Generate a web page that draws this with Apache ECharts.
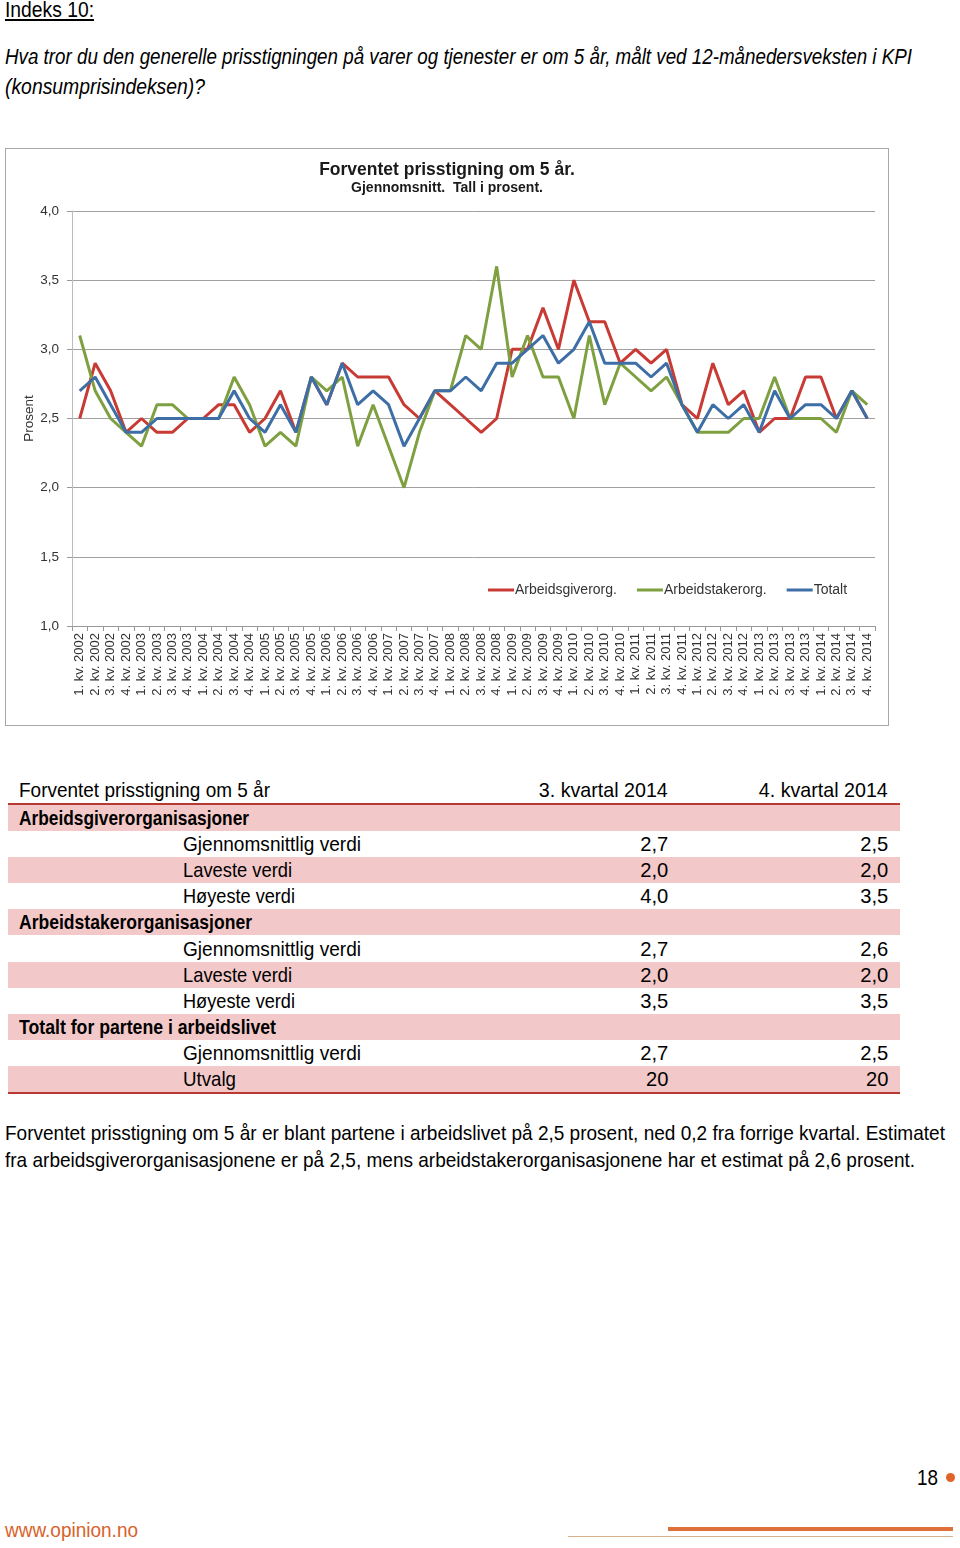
<!DOCTYPE html>
<html><head><meta charset="utf-8">
<script src="https://cdn.jsdelivr.net/npm/echarts@6/dist/echarts.min.js"></script>
<style>
html,body{margin:0;padding:0;background:#fff;}
body{width:960px;height:1548px;position:relative;overflow:hidden;font-family:"Liberation Sans Narrow","Liberation Sans",Arial,sans-serif;color:#000;}
.t{position:absolute;white-space:nowrap;line-height:1;}
#chartBox{position:absolute;left:5px;top:148px;width:882px;height:576px;border:1px solid #a8a8a8;background:#fff;}
#chart{position:absolute;left:0;top:0;width:882px;height:576px;}
.band{position:absolute;left:8px;width:892px;background:#f3c8c8;}
.rline{position:absolute;left:8px;width:892px;height:2px;background:#b83a32;}
</style></head>
<body>
<div class="t" data-w="89" style="left:5px;top:-1px;font-size:22px;text-decoration:underline;">Indeks 10:</div>
<div class="t" data-w="907" style="left:5px;top:46px;font-size:22px;font-style:italic;">Hva tror du den generelle prisstigningen på varer og tjenester er om 5 år, målt ved 12-månedersveksten i KPI</div>
<div class="t" data-w="200" style="left:5px;top:76px;font-size:22px;font-style:italic;">(konsumprisindeksen)?</div>

<div id="chartBox"><div id="chart"></div></div>

<div id="table"></div>

<div class="t" data-w="940" style="left:5px;top:1122px;font-size:21px;">Forventet prisstigning om 5 år er blant partene i arbeidslivet på 2,5 prosent, ned 0,2 fra forrige kvartal. Estimatet</div>
<div class="t" data-w="910" style="left:5px;top:1149px;font-size:21px;">fra arbeidsgiverorganisasjonene er på 2,5, mens arbeidstakerorganisasjonene har et estimat på 2,6 prosent.</div>

<div class="t" data-w="21" style="left:917px;top:1467px;font-size:22px;">18</div>
<div style="position:absolute;left:946px;top:1473px;width:9px;height:9px;border-radius:50%;background:#e0642a;"></div>
<div class="t" data-w="133" style="left:5px;top:1519px;font-size:21px;color:#d9622b;">www.opinion.no</div>
<div style="position:absolute;left:668px;top:1527px;width:285px;height:4px;background:#e0703a;"></div>
<div style="position:absolute;left:568px;top:1536px;width:385px;height:1px;background:#d8b08a;"></div>

<script>
// ---- chart data ----
var categories = [
 "1. kv. 2002","2. kv. 2002","3. kv. 2002","4. kv. 2002",
 "1. kv. 2003","2. kv. 2003","3. kv. 2003","4. kv. 2003",
 "1. kv. 2004","2. kv. 2004","3. kv. 2004","4. kv. 2004",
 "1. kv. 2005","2. kv. 2005","3. kv. 2005","4. kv. 2005",
 "1. kv. 2006","2. kv. 2006","3. kv. 2006","4. kv. 2006",
 "1. kv. 2007","2. kv. 2007","3. kv. 2007","4. kv. 2007",
 "1. kv. 2008","2. kv. 2008","3. kv. 2008","4. kv. 2008",
 "1. kv. 2009","2. kv. 2009","3. kv. 2009","4. kv. 2009",
 "1. kv. 2010","2. kv. 2010","3. kv. 2010","4. kv. 2010",
 "1. kv. 2011","2. kv. 2011","3. kv. 2011","4. kv. 2011",
 "1. kv. 2012","2. kv. 2012","3. kv. 2012","4. kv. 2012",
 "1. kv. 2013","2. kv. 2013","3. kv. 2013","4. kv. 2013",
 "1. kv. 2014","2. kv. 2014","3. kv. 2014","4. kv. 2014"
];
var arbeidsgiverorg = [2.5,2.9,2.7,2.4,2.5,2.4,2.4,2.5,2.5,2.6,2.6,2.4,2.5,2.7,2.4,2.8,2.6,2.9,
 2.8,2.8,2.8,2.6,2.5,2.7,2.6,2.5,2.4,2.5,3.0,3.0,3.3,3.0,3.5,3.2,3.2,
 2.9,3.0,2.9,3.0,2.6,2.5,2.9,2.6,2.7,2.4,2.5,2.5,2.8,2.8,2.5,2.7,2.5];
var arbeidstakerorg = [3.1,2.7,2.5,2.4,2.3,2.6,2.6,2.5,2.5,2.5,2.8,2.6,2.3,2.4,2.3,2.8,2.7,2.8,
 2.3,2.6,2.3,2.0,2.4,2.7,2.7,3.1,3.0,3.6,2.8,3.1,2.8,2.8,2.5,3.1,2.6,
 2.9,2.8,2.7,2.8,2.6,2.4,2.4,2.4,2.5,2.5,2.8,2.5,2.5,2.5,2.4,2.7,2.6];
var totalt = [2.7,2.8,2.6,2.4,2.4,2.5,2.5,2.5,2.5,2.5,2.7,2.5,2.4,2.6,2.4,2.8,2.6,2.9,
 2.6,2.7,2.6,2.3,2.5,2.7,2.7,2.8,2.7,2.9,2.9,3.0,3.1,2.9,3.0,3.2,2.9,
 2.9,2.9,2.8,2.9,2.6,2.4,2.6,2.5,2.6,2.4,2.7,2.5,2.6,2.6,2.5,2.7,2.5];
var seriesNames = ["Arbeidsgiverorg.","Arbeidstakerorg.","Totalt"];
var seriesColors = ["#c83a34","#7fa040","#3e6ea6"];
var yTicks = {min:1.0, max:4.0, interval:0.5};

// ---- table data ----
var tableHeader = ["Forventet prisstigning om 5 år","3. kvartal 2014","4. kvartal 2014"];
var rowLabels = ["Arbeidsgiverorganisasjoner","Gjennomsnittlig verdi","Laveste verdi","Høyeste verdi",
 "Arbeidstakerorganisasjoner","Gjennomsnittlig verdi","Laveste verdi","Høyeste verdi",
 "Totalt for partene i arbeidslivet","Gjennomsnittlig verdi","Utvalg"];
var rowIsGroup = [true,false,false,false,true,false,false,false,true,false,false];
var q3Values = ["","2,7","2,0","4,0","","2,7","2,0","3,5","","2,7","20"];
var q4Values = ["","2,5","2,0","3,5","","2,6","2,0","3,5","","2,5","20"];

// build table
(function(){
  var root = document.getElementById('table');
  var h = '';
  var fs = 21;
  var labelW = {"Arbeidsgiverorganisasjoner":230,"Arbeidstakerorganisasjoner":233,"Totalt for partene i arbeidslivet":257,
    "Gjennomsnittlig verdi":178,"Laveste verdi":109,"Høyeste verdi":112,"Utvalg":53};
  h += '<div class="t" data-w="251" style="left:19px;top:779px;font-size:'+fs+'px;">'+tableHeader[0]+'</div>';
  h += '<div class="t" data-w="129" style="right:'+(960-668)+'px;top:779px;font-size:'+fs+'px;">'+tableHeader[1]+'</div>';
  h += '<div class="t" data-w="129" style="right:'+(960-888)+'px;top:779px;font-size:'+fs+'px;">'+tableHeader[2]+'</div>';
  h += '<div class="rline" style="top:803px;"></div>';
  var rowH = 26.1, top0 = 805;
  for (var i=0;i<rowLabels.length;i++){
    var top = top0 + rowH*i;
    if (i%2===0) h += '<div class="band" style="top:'+top.toFixed(1)+'px;height:'+rowH+'px;"></div>';
    var ty = top + 2;
    var lw = labelW[rowLabels[i]];
    if (rowIsGroup[i]) {
      h += '<div class="t" data-w="'+lw+'" style="left:19px;top:'+ty.toFixed(1)+'px;font-size:'+fs+'px;font-weight:bold;">'+rowLabels[i]+'</div>';
    } else {
      h += '<div class="t" data-w="'+lw+'" style="left:183px;top:'+ty.toFixed(1)+'px;font-size:'+fs+'px;">'+rowLabels[i]+'</div>';
    }
    if (q3Values[i]) h += '<div class="t" data-k="1" style="right:'+(960-668)+'px;top:'+ty.toFixed(1)+'px;font-size:'+fs+'px;">'+q3Values[i]+'</div>';
    if (q4Values[i]) h += '<div class="t" data-k="1" style="right:'+(960-888)+'px;top:'+ty.toFixed(1)+'px;font-size:'+fs+'px;">'+q4Values[i]+'</div>';
  }
  h += '<div class="rline" style="top:'+(top0+rowH*rowLabels.length).toFixed(1)+'px;"></div>';
  root.innerHTML = h;
})();

// fit condensed text widths
(function(){
  document.querySelectorAll('[data-w]').forEach(function(el){
    var w = el.getBoundingClientRect().width;
    var s = (+el.getAttribute('data-w'))/w;
    el.style.transform = 'scaleX('+s.toFixed(4)+')';
    el.style.transformOrigin = el.style.right ? 'right center' : 'left center';
  });
  var k = 0.96;
  document.querySelectorAll('[data-k]').forEach(function(el){
    el.style.transform = 'scaleX('+k+')';
    el.style.transformOrigin = 'right center';
  });
})();

// chart
var chart = echarts.init(document.getElementById('chart'), null, {renderer:'canvas'});
var seriesData = [arbeidsgiverorg, arbeidstakerorg, totalt];
var font = '"Liberation Sans", Arial, sans-serif';
chart.setOption({
  animation:false,
  backgroundColor:'#fff',
  title:{
    text:'Forventet prisstigning om 5 år.',
    subtext:'Gjennomsnitt.  Tall i prosent.',
    left:'center', top:7, itemGap:2,
    textStyle:{fontFamily:font,fontSize:17.5,fontWeight:'bold',color:'#1a1a1a'},
    subtextStyle:{fontFamily:font,fontSize:14,fontWeight:'bold',color:'#1a1a1a'}
  },
  legend:{
    left:482, top:434, padding:0, itemWidth:26, itemHeight:3, itemGap:20, icon:'rect',
    textStyle:{fontFamily:font,fontSize:14,color:'#333',padding:[0,0,0,-4]},
    data:seriesNames
  },
  grid:{left:66, right:13, top:62, bottom:99, containLabel:false},
  xAxis:{
    type:'category', data:categories, boundaryGap:true,
    axisLine:{lineStyle:{color:'#999'}},
    axisTick:{show:true, interval:0, length:5, lineStyle:{color:'#999'}},
    axisLabel:{interval:0, rotate:90, margin:7, fontFamily:font, fontSize:13, color:'#333'}
  },
  yAxis:{
    type:'value', min:yTicks.min, max:yTicks.max, interval:yTicks.interval,
    name:'Prosent', nameLocation:'middle', nameGap:36, nameRotate:90, nameMoveOverlap:false,
    nameTextStyle:{fontFamily:font,fontSize:13.5,color:'#333'},
    axisLine:{show:true, lineStyle:{color:'#bbb'}},
    axisTick:{show:true, length:5, lineStyle:{color:'#999'}},
    splitLine:{lineStyle:{color:'#a0a0a0', width:1}},
    axisLabel:{margin:13, fontFamily:font, fontSize:13.5, color:'#333',
      formatter:function(v){return v.toFixed(1).replace('.',',');}}
  },
  series: seriesNames.map(function(n,i){
    return {name:n, type:'line', data:seriesData[i], symbol:'none',
      lineStyle:{width:3, color:seriesColors[i]}, itemStyle:{color:seriesColors[i]}, z:2+i};
  })
});
</script>
</body></html>
